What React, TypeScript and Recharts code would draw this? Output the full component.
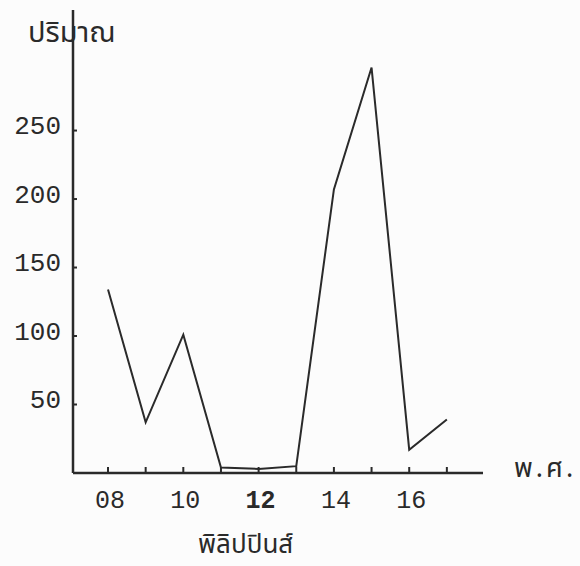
import { LineChart, Line, XAxis, YAxis } from 'recharts';

// ปีที่ (พ.ศ. 25xx) และปริมาณ
const YEARS = [8, 9, 10, 11, 12, 13, 14, 15, 16, 17];
const AMOUNTS = [134, 37, 101, 4, 3, 5, 207, 296, 17, 39];
const Y_TICKS = [50, 100, 150, 200, 250];
const X_LABELED = [8, 10, 12, 14, 16];

const data = YEARS.map((y, i) => ({ year: y, amount: AMOUNTS[i] }));

const INK = '#2a2a2a';
const MONO = '"Liberation Mono", "DejaVu Sans Mono", monospace';
const THAI = '"Noto Sans Thai", "Noto Serif Thai", Loma, Garuda, "Tlwg Typo", "DejaVu Sans", sans-serif';

function YTick(props: any) {
  const { x, y, payload } = props;
  return (
    <g>
      <line x1={x} y1={y} x2={x + 4} y2={y} stroke={INK} strokeWidth={2} />
      <text x={x - 12} y={y - 3} textAnchor="end" dominantBaseline="middle" fontFamily={MONO} fontSize={26} fill={INK}>
        {payload.value}
      </text>
    </g>
  );
}

function XTick(props: any) {
  const { x, y, payload } = props;
  const v = payload.value as number;
  const show = X_LABELED.includes(v);
  return (
    <g>
      <line x1={x} y1={y} x2={x} y2={y - 6} stroke={INK} strokeWidth={2} />
      {show && (
        <text x={x + 2} y={y + 28} textAnchor="middle" dominantBaseline="middle" fontFamily={MONO} fontSize={25}
          fontWeight={v === 12 ? 'bold' : 'normal'} fill={INK}>
          {String(v).padStart(2, '0')}
        </text>
      )}
    </g>
  );
}

export default function App() {
  return (
    <div style={{ position: 'absolute', left: 0, top: 0, width: 580, height: 566, background: '#fcfcfc' }}>
      <LineChart width={580} height={566} data={data} margin={{ top: 10, right: 97, left: 0, bottom: 33 }}>
        <XAxis
          dataKey="year"
          type="number"
          domain={[7.07, 17.96]}
          ticks={YEARS}
          allowDataOverflow
          height={60}
          tickSize={0}
          tickMargin={0}
          tickLine={false}
          axisLine={{ stroke: INK, strokeWidth: 2.5 }}
          tick={<XTick />}
          interval={0}
        />
        <YAxis
          domain={[0, 338]}
          ticks={Y_TICKS}
          allowDataOverflow
          width={73}
          tickSize={0}
          tickMargin={0}
          tickLine={false}
          axisLine={{ stroke: INK, strokeWidth: 2.5 }}
          tick={<YTick />}
          interval={0}
        />
        <Line
          type="linear"
          dataKey="amount"
          stroke={INK}
          strokeWidth={2}
          dot={false}
          isAnimationActive={false}
        />
      </LineChart>
      <div style={{ position: 'absolute', left: 28, top: 19, fontFamily: THAI, fontSize: 29, color: INK, lineHeight: 1 }}>
        ปริมาณ
      </div>
      <div style={{ position: 'absolute', left: 514, top: 455, fontFamily: THAI, fontSize: 27, color: INK, lineHeight: 1, letterSpacing: 3 }}>
        พ.ศ.
      </div>
      <div style={{ position: 'absolute', left: 198, top: 532, fontFamily: THAI, fontSize: 26, color: INK, lineHeight: 1 }}>
        พิลิปปินส์
      </div>
    </div>
  );
}
